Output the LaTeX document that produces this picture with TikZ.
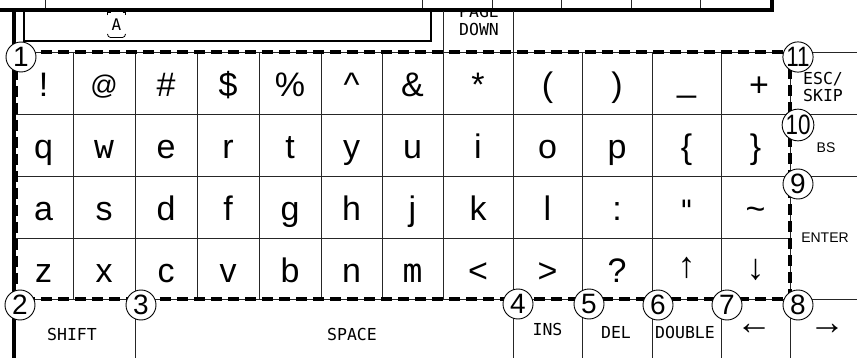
\documentclass[tikz,border=0pt]{standalone}
\usepackage{fontspec}
\setmainfont{Liberation Sans}
\newfontfamily\panelfont{DejaVu Sans Mono}

\tikzset{
  gridline/.style={black!85,line width=0.9pt},
  heavyline/.style={black,line width=3.3pt},
  edgedash/.style={black,line width=3.4pt,dash pattern=on 11pt off 6pt},
  keyglyph/.style={font=\fontsize{34}{40}\selectfont,anchor=base,inner sep=0pt},
  monoglyph/.style={font=\panelfont\fontsize{33}{40}\selectfont,anchor=base,inner sep=0pt},
  keylabel/.style={font=\panelfont\fontsize{16.5}{18}\selectfont,anchor=base,inner sep=0pt},
  sidelabel/.style={font=\fontsize{14}{16}\selectfont,inner sep=0pt},
  arrowglyph/.style={font=\fontsize{36}{40}\selectfont,inner sep=0pt},
  marknum/.style={circle,draw,fill=white,line width=0.9pt,minimum size=30pt,inner sep=0pt,font=\fontsize{28}{30}\selectfont},
}

\begin{document}
\begin{tikzpicture}[x=1pt,y=-1pt]
\useasboundingbox (0,0) rectangle (857,358);

% upper panel edge
\draw[gridline] (45,0) -- (45,9);
\draw[gridline] (422,0) -- (422,9);
\draw[gridline] (492,0) -- (492,9);
\draw[gridline] (561,0) -- (561,9);
\draw[gridline] (631,0) -- (631,9);
\draw[gridline] (700,0) -- (700,9);
\draw[heavyline,line join=miter] (0,10) -- (772,10) -- (772,0);
\draw[heavyline] (14,10) -- (14,358);

% display box with cursor
\draw[black,line width=1.2pt] (24,11.5) rectangle (431,41);
\node[font=\panelfont\fontsize{16}{18}\selectfont,anchor=base,inner sep=0pt] (cursorA) at (116.5,31) {A};
\draw[line width=0.8pt] (107.5,15.5) -- (107.5,12.5) -- (110.5,12.5);
\draw[line width=0.8pt] (122.5,12.5) -- (125.5,12.5) -- (125.5,15.5);
\draw[line width=0.8pt] (107.5,34) to[out=-90,in=180] (110.5,37.5) -- (122.5,37.5) to[out=0,in=-90] (125.5,34);

% grid
\draw[gridline] (16,52) -- (857,52);
\draw[gridline] (16,114) -- (857,114);
\draw[gridline] (16,176) -- (857,176);
\draw[gridline] (16,238) -- (790,238);
\draw[gridline] (16,299) -- (857,299);
\draw[gridline] (73,52) -- (73,299);
\draw[gridline] (135,52) -- (135,358);
\draw[gridline] (197,52) -- (197,299);
\draw[gridline] (259,52) -- (259,299);
\draw[gridline] (321,52) -- (321,299);
\draw[gridline] (382,52) -- (382,299);
\draw[gridline] (443,11.5) -- (443,299);
\draw[gridline] (513,11.5) -- (513,358);
\draw[gridline] (582,52) -- (582,358);
\draw[gridline] (652,52) -- (652,358);
\draw[gridline] (721,52) -- (721,358);
\draw[gridline] (790,52) -- (790,358);
\draw[edgedash] (16,52) rectangle (790,299);

% PAGE DOWN key, cut by the panel edge
\begin{scope}
\clip (444,11.7) rectangle (512,51);
\node[keylabel] (pageA) at (479,18) {PAGE};
\node[keylabel] (pageB) at (479,36) {DOWN};
\end{scope}

% row 1
\node[keyglyph] (r1c1) at (43.5,97) {!};
\node[keyglyph,font=\fontsize{27}{30}\selectfont] (r1c2) at (104,95) {@};
\node[keyglyph] (r1c3) at (166,97) {\#};
\node[keyglyph] (r1c4) at (228,97) {\$};
\node[keyglyph] (r1c5) at (290,97) {\%};
\node[keyglyph] (r1c6) at (351.5,97) {\textasciicircum};
\node[keyglyph] (r1c7) at (412.5,97) {\&};
\node[keyglyph] (r1c8) at (478,97) {*};
\node[keyglyph] (r1c9) at (547.5,97) {(};
\node[keyglyph] (r1c10) at (617,97) {)};
\node[keyglyph] (r1c11) at (686.5,92) {\_};
\node[keyglyph] (r1c12) at (759,97) {+};

% row 2
\node[keyglyph] (r2c1) at (43.5,159) {q};
\node[monoglyph] (r2c2) at (104,159) {w};
\node[keyglyph] (r2c3) at (166,159) {e};
\node[keyglyph] (r2c4) at (228,159) {r};
\node[keyglyph] (r2c5) at (290,159) {t};
\node[keyglyph] (r2c6) at (351.5,159) {y};
\node[keyglyph] (r2c7) at (412.5,159) {u};
\node[keyglyph] (r2c8) at (478,159) {i};
\node[keyglyph] (r2c9) at (547.5,159) {o};
\node[keyglyph] (r2c10) at (617,159) {p};
\node[keyglyph] (r2c11) at (686.5,159) {\{};
\node[keyglyph] (r2c12) at (755.5,159) {\}};

% row 3
\node[keyglyph] (r3c1) at (43.5,221) {a};
\node[keyglyph] (r3c2) at (104,221) {s};
\node[keyglyph] (r3c3) at (166,221) {d};
\node[keyglyph] (r3c4) at (228,221) {f};
\node[keyglyph] (r3c5) at (290,221) {g};
\node[keyglyph] (r3c6) at (351.5,221) {h};
\node[keyglyph] (r3c7) at (412.5,221) {j};
\node[keyglyph] (r3c8) at (478,221) {k};
\node[keyglyph] (r3c9) at (547.5,221) {l};
\node[keyglyph] (r3c10) at (617,221) {:};
\node[monoglyph,font=\panelfont\fontsize{28}{32}\selectfont] (r3c11) at (686.5,221) {"};
\node[keyglyph] (r3c12) at (755.5,221) {\textasciitilde};

% row 4
\node[keyglyph] (r4c1) at (43.5,283) {z};
\node[keyglyph] (r4c2) at (104,283) {x};
\node[keyglyph] (r4c3) at (166,283) {c};
\node[keyglyph] (r4c4) at (228,283) {v};
\node[keyglyph] (r4c5) at (290,283) {b};
\node[keyglyph] (r4c6) at (351.5,283) {n};
\node[monoglyph] (r4c7) at (412.5,283) {m};
\node[keyglyph] (r4c8) at (478,283) {<};
\node[keyglyph] (r4c9) at (547.5,283) {>};
\node[keyglyph] (r4c10) at (617,283) {?};
\node[arrowglyph] (r4c11) at (686.5,268) {↑};
\node[arrowglyph] (r4c12) at (755.5,270) {↓};

% bottom row and right column
\node[keylabel] (shift) at (72,340) {SHIFT};
\node[keylabel] (space) at (352,340) {SPACE};
\node[keylabel] (ins) at (547.5,335) {INS};
\node[keylabel] (del) at (616,338) {DEL};
\node[keylabel] (double) at (685,338) {DOUBLE};
\node[arrowglyph] (left) at (754,329) {←};
\node[arrowglyph] (right) at (827,329) {→};
\node[keylabel] (escA) at (823,85) {ESC/};
\node[keylabel] (escB) at (823,102) {SKIP};
\node[sidelabel] (bs) at (826,148) {BS};
\node[sidelabel] (enter) at (825,238) {ENTER};

% numbered marks
\node[marknum] (m1) at (21,57) {1};
\node[marknum] (m2) at (20,305) {2};
\node[marknum] (m3) at (141,305) {3};
\node[marknum] (m4) at (518,304) {4};
\node[marknum] (m5) at (589,304) {5};
\node[marknum] (m6) at (658,305) {6};
\node[marknum] (m7) at (727,305) {7};
\node[marknum] (m8) at (798,305) {8};
\node[marknum] (m9) at (798,184) {9};
\node[marknum] (m10) at (798,125) {\scalebox{0.8}[1]{10}};
\node[marknum] (m11) at (798,57) {\scalebox{0.8}[1]{11}};

\end{tikzpicture}
\end{document}
